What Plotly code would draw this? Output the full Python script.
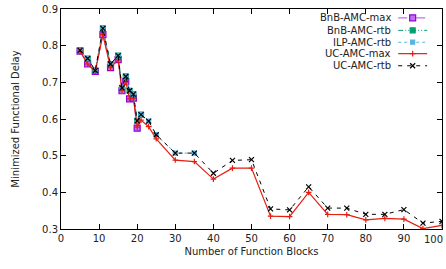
import plotly.graph_objects as go

x_all = [5, 7, 9, 11, 13, 15, 16, 17, 18, 19, 20, 21, 23, 25, 30, 35, 40, 45, 50,
         55, 60, 65, 70, 75, 80, 85, 90, 95, 100]
uc_rtb = [0.787, 0.765, 0.732, 0.847, 0.750, 0.773, 0.685, 0.716, 0.677, 0.668,
          0.595, 0.612, 0.594, 0.557, 0.507, 0.507, 0.452, 0.487, 0.489,
          0.355, 0.352, 0.415, 0.357, 0.357, 0.340, 0.340, 0.353, 0.316, 0.321]
uc_max = [0.785, 0.750, 0.730, 0.830, 0.740, 0.762, 0.677, 0.702, 0.655, 0.657,
          0.578, 0.597, 0.579, 0.546, 0.488, 0.484, 0.436, 0.466, 0.466,
          0.335, 0.334, 0.400, 0.340, 0.339, 0.325, 0.329, 0.327, 0.301, 0.310]
x_bnb_max = [5, 7, 9, 11, 13, 15, 16, 17, 18, 19, 20]
bnb_max = [0.785, 0.750, 0.730, 0.830, 0.740, 0.762, 0.677, 0.702, 0.655, 0.657, 0.575]
x_bnb_rtb = [5, 7, 9, 11, 13, 15, 16, 17, 18, 19, 20, 21]
bnb_rtb = [0.787, 0.765, 0.732, 0.847, 0.750, 0.773, 0.685, 0.716, 0.677, 0.668, 0.595, 0.612]
x_ilp = [5, 7, 9, 11, 13, 15, 16, 17, 18, 19, 20, 21, 23, 25, 30, 35]
ilp_rtb = [0.787, 0.765, 0.732, 0.847, 0.750, 0.773, 0.685, 0.716, 0.677, 0.668,
           0.595, 0.612, 0.594, 0.557, 0.507, 0.507]
x_ticks = [0, 10, 20, 30, 40, 50, 60, 70, 80, 90, 100]

series = [
    dict(name="BnB-AMC-max", x=x_bnb_max, y=bnb_max, color="#c070f0", mline="#9400d3",
         dash="dashdot", symbol="square", size=6, lw=1.2),
    dict(name="BnB-AMC-rtb", x=x_bnb_rtb, y=bnb_rtb, color="#009e73", mline="#009e73",
         dash="5px,2px,1px,2px,1px,2px", symbol="square", size=5, lw=1.0),
    dict(name="ILP-AMC-rtb", x=x_ilp, y=ilp_rtb, color="#56b4e9", mline="#56b4e9",
         dash="dot", symbol="square", size=4, lw=1.0),
    dict(name="UC-AMC-max", x=x_all, y=uc_max, color="#e51e10", mline="#e51e10",
         dash="solid", symbol="cross-thin", size=4, lw=1.2),
    dict(name="UC-AMC-rtb", x=x_all, y=uc_rtb, color="#000000", mline="#000000",
         dash="4px,5px", symbol="x-thin", size=5, lw=1.0),
]

fig = go.Figure()
for s in series:
    fig.add_trace(go.Scatter(
        x=s["x"], y=s["y"], mode="lines+markers", name=s["name"],
        line=dict(color=s["color"], dash=s["dash"], width=s["lw"]),
        marker=dict(symbol=s["symbol"], size=s["size"], color=s["color"],
                    line=dict(color=s["mline"], width=1.2)),
        showlegend=False, cliponaxis=True))

# custom gnuplot-style legend (text right, sample to its right)
legend_y = [0.960, 0.903, 0.849, 0.797, 0.742]
for s, ly in zip(series, legend_y):
    fig.add_trace(go.Scatter(
        x=[0.885, 0.961], y=[ly, ly], mode="lines", xaxis="x2", yaxis="y2",
        line=dict(color=s["color"], dash=s["dash"], width=s["lw"]),
        showlegend=False, hoverinfo="skip"))
    fig.add_trace(go.Scatter(
        x=[0.923], y=[ly], mode="markers", xaxis="x2", yaxis="y2",
        marker=dict(symbol=s["symbol"], size=s["size"], color=s["color"],
                    line=dict(color=s["mline"], width=1.2)),
        showlegend=False, hoverinfo="skip"))
    fig.add_annotation(x=0.872, y=ly, xref="x2", yref="y2", text=s["name"],
                       showarrow=False, xanchor="right", yanchor="middle",
                       font=dict(size=10, color="#222"))

# last x tick label, kept inside the canvas
fig.add_annotation(x=1.0, y=0, xref="paper", yref="paper", text=str(x_ticks[-1]),
                   showarrow=False, xanchor="right", yanchor="top", yshift=-3, xshift=3,
                   font=dict(size=10, color="#222"))

axis_common = dict(showgrid=False, zeroline=False, showline=True, linecolor="black",
                   linewidth=1, mirror="ticks", ticks="inside", ticklen=5,
                   tickcolor="black", tickfont=dict(size=10, color="#222"))

fig.update_layout(
    width=446, height=269,
    margin=dict(l=61, r=4, t=9, b=40),
    paper_bgcolor="white", plot_bgcolor="white",
    font=dict(family="DejaVu Sans", size=10, color="#222"),
    xaxis=dict(range=[0, 100], tickvals=x_ticks[:-1], ticktext=[str(v) for v in x_ticks[:-1]],
               title=dict(text="Number of Function Blocks", standoff=4,
                          font=dict(size=10)), **axis_common),
    yaxis=dict(range=[0.3, 0.9], dtick=0.1, tick0=0.3, tickformat=".1f",
               title=dict(text="Minimized Functional Delay", standoff=20,
                          font=dict(size=10)), **axis_common),
    xaxis2=dict(range=[0, 1], overlaying="x", visible=False, fixedrange=True),
    yaxis2=dict(range=[0, 1], overlaying="y", visible=False, fixedrange=True),
)

fig.write_html("out.html", config={"displayModeBar": False},
               post_script="document.body.style.margin='0';document.body.style.overflow='hidden';")
